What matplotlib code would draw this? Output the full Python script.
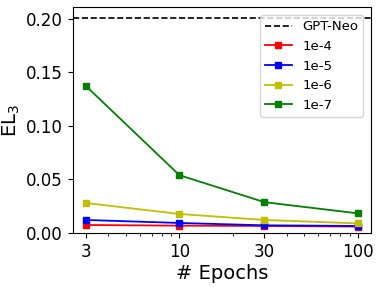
import numpy as np
import matplotlib
matplotlib.use('Agg')
from matplotlib import pyplot as plt

epochs = [3, 10, 30, 100]
gpt_neo = 0.201
lr_labels = ['1e-4', '1e-5', '1e-6', '1e-7']
el_1e4 = [0.0075, 0.0069, 0.0066, 0.0060]
el_1e5 = [0.0122, 0.0094, 0.0072, 0.0066]
el_1e6 = [0.0280, 0.0178, 0.0122, 0.0090]
el_1e7 = [0.1370, 0.0540, 0.0288, 0.0184]
colors = ['r', 'b', 'y', 'g']

fig, ax = plt.subplots(figsize=(3.82, 2.87), dpi=100)
ax.axhline(gpt_neo, color='k', linestyle='--', linewidth=1.2, label='GPT-Neo')
for vals, lab, c in zip([el_1e4, el_1e5, el_1e6, el_1e7], lr_labels, colors):
    ax.plot(epochs, vals, color=c, marker='s', markersize=5, linewidth=1.3, label=lab)

ax.set_xscale('log')
ax.set_xticks(epochs)
ax.set_xticklabels([str(e) for e in epochs])
ax.set_ylim(bottom=0)
ax.set_yticks([0.0, 0.05, 0.10, 0.15, 0.20])
ax.tick_params(axis='both', labelsize=12)
ax.set_xlabel('# Epochs', fontsize=14, labelpad=2)
ax.set_ylabel('EL$_3$', fontsize=14, labelpad=3)
ax.legend(fontsize=9.5, loc='upper right', borderaxespad=0.6)

fig.subplots_adjust(left=0.19, right=0.972, top=0.975, bottom=0.188)
fig.savefig('out.png', dpi=100)
